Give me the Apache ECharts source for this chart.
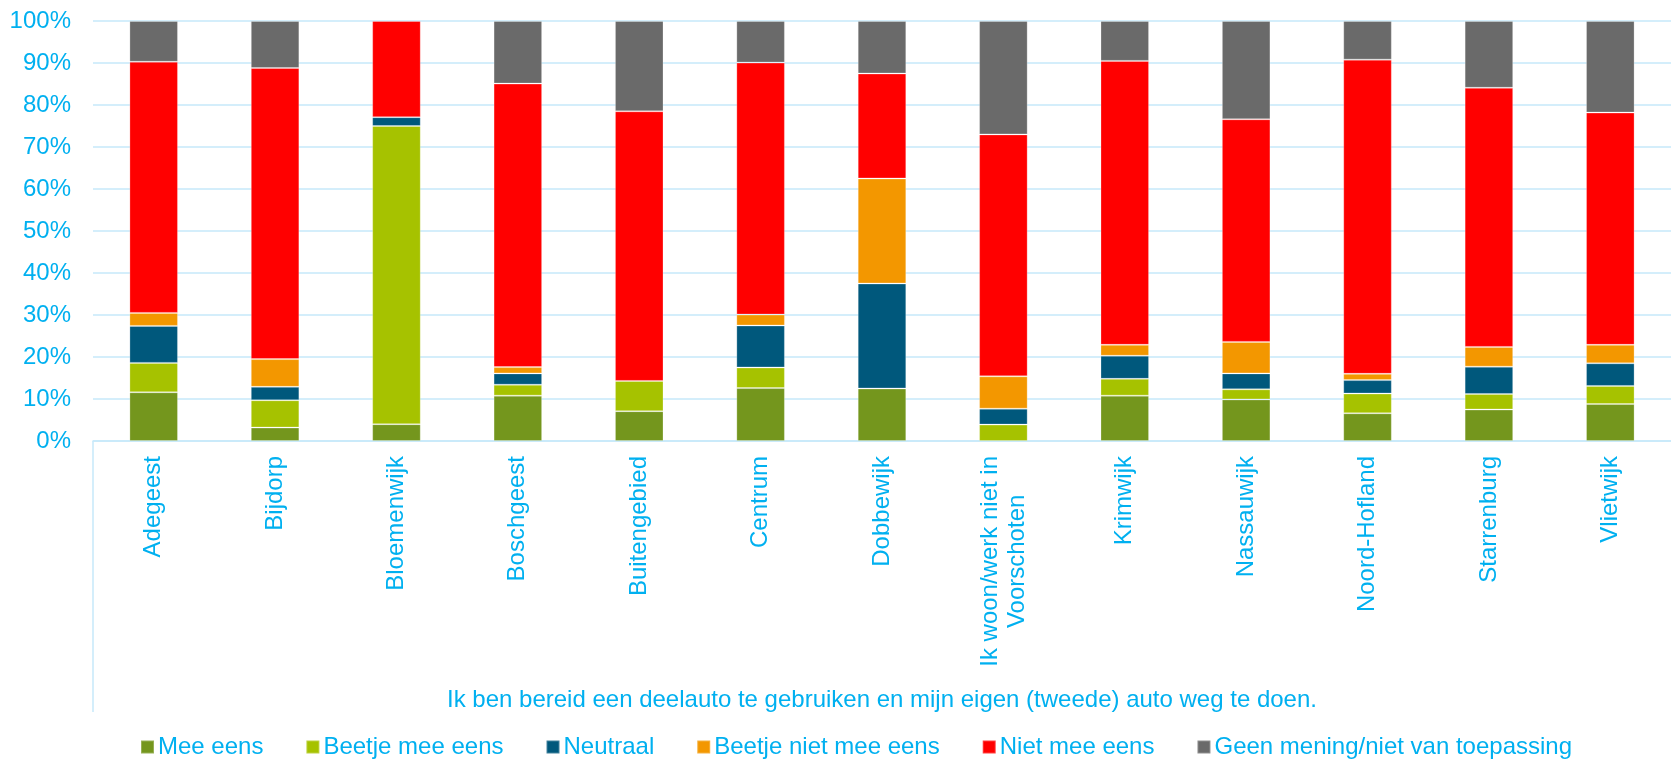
<!DOCTYPE html>
<html>
<head>
<meta charset="utf-8">
<script src="https://cdn.jsdelivr.net/npm/echarts@6/dist/echarts.min.js"></script>
<style>
  html, body { margin: 0; padding: 0; background: #fff; }
  #chart { width: 1671px; height: 760px; }
</style>
</head>
<body>
<div id="chart"></div>
<script>
const categories = ['Adegeest', 'Bijdorp', 'Bloemenwijk', 'Boschgeest', 'Buitengebied', 'Centrum', 'Dobbewijk',
  'Ik woon/werk niet in\nVoorschoten', 'Krimwijk', 'Nassauwijk', 'Noord-Hofland', 'Starrenburg', 'Vlietwijk']

const meeEens       = [11.6, 3.2, 4.0, 10.8, 7.1, 12.6, 12.5, 0, 10.8, 9.9, 6.6, 7.5, 8.8]
const beetjeMeeEens = [7.0, 6.5, 71.0, 2.6, 7.2, 4.9, 0, 3.9, 4.0, 2.4, 4.7, 3.7, 4.3]
const neutraal      = [8.8, 3.2, 2.1, 2.7, 0, 10.0, 25.0, 3.8, 5.5, 3.8, 3.2, 6.5, 5.4]
const beetjeNiet    = [3.1, 6.6, 0, 1.5, 0, 2.6, 25.0, 7.7, 2.6, 7.5, 1.5, 4.7, 4.4]
const nietMeeEens   = [59.8, 69.3, 22.9, 67.5, 64.2, 60.0, 25.0, 57.6, 67.6, 53.0, 74.8, 61.7, 55.3]
const geenMening    = [9.7, 11.2, 0, 14.9, 21.5, 9.9, 12.5, 27.0, 9.5, 23.4, 9.2, 15.9, 21.8]

const seriesNames = ['Mee eens', 'Beetje mee eens', 'Neutraal', 'Beetje niet mee eens', 'Niet mee eens', 'Geen mening/niet van toepassing']
const seriesData = [meeEens, beetjeMeeEens, neutraal, beetjeNiet, nietMeeEens, geenMening]
const colors = ['#74961d', '#a6c200', '#00587c', '#f39700', '#ff0000', '#6a6a6a']
const yTicks = [0, 10, 20, 30, 40, 50, 60, 70, 80, 90, 100]

const axisTitle = 'Ik ben bereid een deelauto te gebruiken en mijn eigen (tweede) auto weg te doen.'

const textBlue = '#00b0f0'
const lineBlue = '#c6e9fa'
const font = '"Liberation Sans", Arial, sans-serif'

const chart = echarts.init(document.getElementById('chart'))

const option = {
  animation: false,
  color: colors,
  textStyle: { fontFamily: font },
  title: {
    text: axisTitle,
    left: 882,
    top: 688,
    textAlign: 'center',
    padding: 0,
    textStyle: { color: textBlue, fontSize: 24, fontWeight: 'normal', fontFamily: font },
  },
  legend: {
    left: 140,
    top: 735,
    itemWidth: 13,
    itemHeight: 13,
    itemGap: 42,
    icon: 'rect',
    padding: 0,
    textStyle: { color: textBlue, fontSize: 24, fontFamily: font, padding: [0, 0, 0, -1] },
    data: seriesNames,
  },
  grid: { left: 93, right: 0, top: 21, bottom: 319, containLabel: false },
  xAxis: {
    type: 'category',
    data: categories,
    axisLine: { show: true, lineStyle: { color: lineBlue, width: 1.5 } },
    axisTick: { show: false },
    axisLabel: {
      rotate: 90,
      interval: 0,
      margin: 15,
      color: textBlue,
      fontSize: 24,
      fontFamily: font,
      lineHeight: 27,
      formatter: v => v.split('\n').map(s => '{c|' + s + '}').join('\n'),
      rich: { c: { align: 'center', color: textBlue, fontSize: 24, fontFamily: font, lineHeight: 27 } },
    },
  },
  yAxis: {
    type: 'value',
    min: yTicks[0],
    max: yTicks[yTicks.length - 1],
    interval: 10,
    axisLine: { show: false },
    axisTick: { show: false },
    axisLabel: { color: textBlue, fontSize: 24, fontFamily: font, margin: 22, formatter: '{value}%' },
    splitLine: { lineStyle: { color: lineBlue, width: 1.5 } },
  },
  graphic: [{
    type: 'line',
    shape: { x1: 93, y1: 441, x2: 93, y2: 712 },
    style: { stroke: lineBlue, lineWidth: 1.5 },
    silent: true,
  }],
  series: seriesNames.map((name, i) => ({
    name,
    type: 'bar',
    stack: 'total',
    barWidth: '40%',
    // empty segments left out so the thin border doesn't draw a stray line
    data: seriesData[i].map(v => (v === 0 ? '-' : v)),
    itemStyle: { color: colors[i], borderColor: 'rgba(255,255,255,0.25)', borderWidth: 1 },
  })),
}

chart.setOption(option)
</script>
</body>
</html>
